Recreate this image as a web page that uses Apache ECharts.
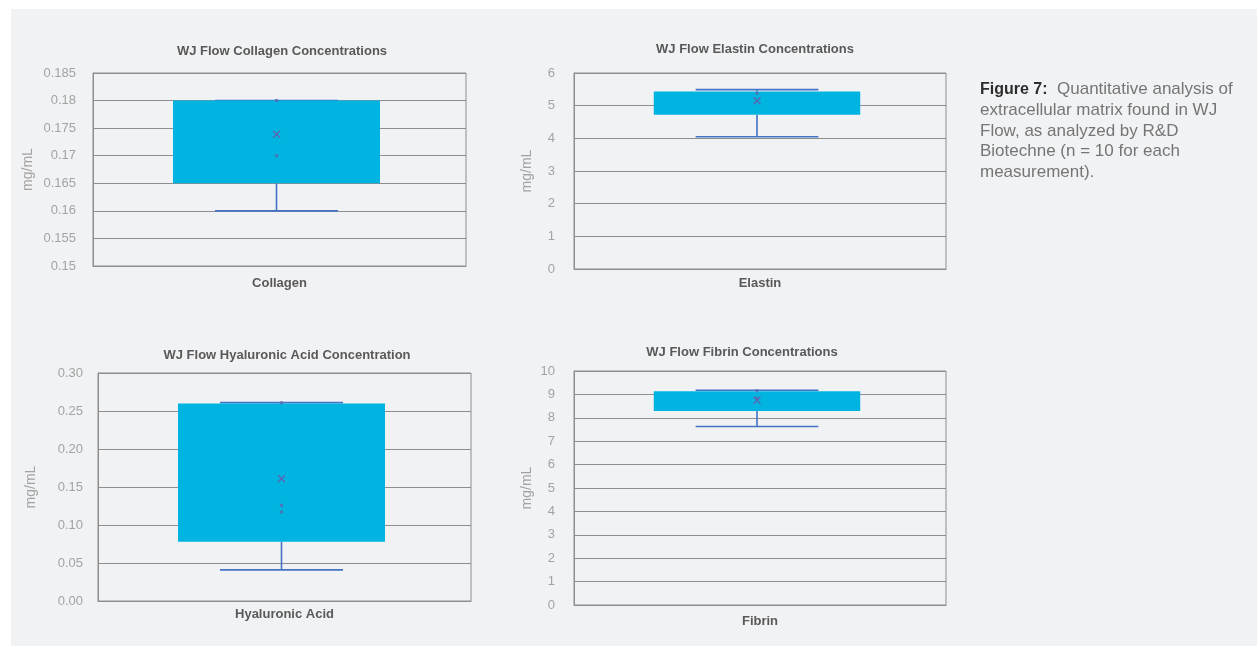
<!DOCTYPE html>
<html>
<head>
<meta charset="utf-8">
<script src="https://cdn.jsdelivr.net/npm/echarts@6/dist/echarts.min.js"></script>
<style>
html,body{margin:0;padding:0;background:#fff;}
#c{width:1257px;height:646px;}
</style>
</head>
<body>
<div id="c"></div>
<script>
// ---- data ----
const titles = ['WJ Flow Collagen Concentrations', 'WJ Flow Elastin Concentrations', 'WJ Flow Hyaluronic Acid Concentration', 'WJ Flow Fibrin Concentrations'];
const categories = ['Collagen', 'Elastin', 'Hyaluronic Acid', 'Fibrin'];
const statMin  = [0.160, 4.05, 0.041, 7.63];
const statQ1   = [0.165, 4.72, 0.078, 8.29];
const statQ3   = [0.180, 5.43, 0.260, 9.13];
const statMax  = [0.180, 5.49, 0.261, 9.18];
const statMean = [0.1739, 5.15, 0.161, 8.75];
const innerPoints = [[0.170, 0.180], [5.38], [0.261, 0.126, 0.117], [9.16, 8.84]];
const axisMin = [0.15, 0, 0, 0];
const axisMax = [0.185, 6, 0.30, 10];
const axisInterval = [0.005, 1, 0.05, 1];
const axisDecimals = [3, 0, 2, 0];
const yName = 'mg/mL';
const caption = ['Figure 7:', 'Quantitative analysis of', 'extracellular matrix found in WJ', 'Flow, as analyzed by R&D', 'Biotechne (n = 10 for each', 'measurement).'];

// ---- layout ----
const grids = [
  {left: 93, top: 73, width: 373, height: 193},
  {left: 574, top: 73, width: 372, height: 196},
  {left: 98, top: 373, width: 373, height: 228},
  {left: 574, top: 371, width: 372, height: 234}
];
const titlePos = [[277, 40], [750, 38], [282, 344], [737, 341]];
const xLabelMargin = [11, 8, 7, 10];
const yLabelMargin = [17, 19, 15, 19];
const yNameGap = [58, 40, 60, 40];

const FONT = "'Liberation Sans', Arial, sans-serif";
const GRID_COLOR = '#8e8e8e';
const BOX_COLOR = '#00b4e2';
const WHISKER_COLOR = '#4472c4';
const MARK_COLOR = '#5b66b0';

function fmt(d) {
  return function (v) {
    if (d === 3) return String(parseFloat(v.toFixed(3)));
    return v.toFixed(d);
  };
}

function renderBox(params, api) {
  const x = api.value(0);
  const pMin = api.coord([x, api.value(1)]);
  const pQ1 = api.coord([x, api.value(2)]);
  const pQ3 = api.coord([x, api.value(3)]);
  const pMax = api.coord([x, api.value(4)]);
  const pMean = api.coord([x, api.value(5)]);
  const band = api.size([1, 0])[0];
  const cx = pMin[0] - 3;
  const bw = band * 0.555;
  const cw = band * 0.33;
  const ls = {stroke: WHISKER_COLOR, lineWidth: 1.6};
  const ms = {stroke: MARK_COLOR, lineWidth: 1.4};
  const m = 3.5;
  return {
    type: 'group',
    children: [
      {type: 'line', shape: {x1: cx, y1: pMax[1], x2: cx, y2: pQ3[1]}, style: ls},
      {type: 'line', shape: {x1: cx, y1: pQ1[1], x2: cx, y2: pMin[1]}, style: ls},
      {type: 'line', shape: {x1: cx - cw / 2, y1: pMax[1], x2: cx + cw / 2, y2: pMax[1]}, style: ls},
      {type: 'line', shape: {x1: cx - cw / 2, y1: pMin[1], x2: cx + cw / 2, y2: pMin[1]}, style: ls},
      {type: 'rect', shape: {x: cx - bw / 2, y: pQ3[1], width: bw, height: pQ1[1] - pQ3[1]}, style: {fill: BOX_COLOR}},
      {type: 'line', shape: {x1: cx - m, y1: pMean[1] - m, x2: cx + m, y2: pMean[1] + m}, style: ms},
      {type: 'line', shape: {x1: cx - m, y1: pMean[1] + m, x2: cx + m, y2: pMean[1] - m}, style: ms}
    ]
  };
}

const option = {
  backgroundColor: '#ffffff',
  animation: false,
  textStyle: {fontFamily: FONT},
  graphic: [
    {type: 'rect', z: -100, shape: {x: 11, y: 9, width: 1246, height: 637}, style: {fill: '#f1f2f4'}},
    {
      type: 'text', left: 980, top: 81, z: 10,
      style: {
        text: '{b|' + caption[0] + '}{r|  ' + caption[1] + '}\n{r|' + caption[2] + '}\n{r|' + caption[3] + '}\n{r|' + caption[4] + '}\n{r|' + caption[5] + '}',
        fill: '#727272',
        rich: {
          b: {fontFamily: FONT, fontSize: 16, fontWeight: 'bold', fill: '#2e2e2e', lineHeight: 20.7},
          r: {fontFamily: FONT, fontSize: 17, fill: '#757575', lineHeight: 20.7}
        }
      }
    }
  ],
  title: titles.map((t, i) => ({
    text: t, left: titlePos[i][0], top: titlePos[i][1], textAlign: 'center',
    textStyle: {fontFamily: FONT, fontSize: 13, fontWeight: 'bold', color: '#595959'}
  })),
  grid: grids.map(g => Object.assign({show: true, borderColor: GRID_COLOR, borderWidth: 1, backgroundColor: 'transparent'}, g)),
  xAxis: categories.map((c, i) => ({
    type: 'category', gridIndex: i, data: [c],
    axisTick: {show: false},
    axisLine: {show: true, lineStyle: {color: GRID_COLOR, width: 1}},
    axisLabel: {fontFamily: FONT, fontSize: 13, fontWeight: 'bold', color: '#595959', margin: xLabelMargin[i]},
    splitLine: {show: false}
  })),
  yAxis: categories.map((c, i) => ({
    type: 'value', gridIndex: i,
    min: axisMin[i], max: axisMax[i], interval: axisInterval[i],
    axisTick: {show: false},
    axisLine: {show: true, lineStyle: {color: GRID_COLOR, width: 1}},
    splitLine: {show: true, lineStyle: {color: GRID_COLOR, width: 1}},
    axisLabel: {fontFamily: FONT, fontSize: 13, color: '#a3a3a3', margin: yLabelMargin[i], formatter: fmt(axisDecimals[i])},
    name: yName, nameLocation: 'middle', nameRotate: 90, nameGap: yNameGap[i],
    nameTextStyle: {fontFamily: FONT, fontSize: 14, color: '#a3a3a3'}
  })),
  series: [].concat(
    categories.map((c, i) => ({
      type: 'custom', xAxisIndex: i, yAxisIndex: i,
      renderItem: renderBox,
      encode: {x: 0, y: [1, 2, 3, 4, 5]},
      data: [[0, statMin[i], statQ1[i], statQ3[i], statMax[i], statMean[i]]],
      z: 2
    })),
    categories.map((c, i) => ({
      type: 'scatter', xAxisIndex: i, yAxisIndex: i,
      symbol: 'circle', symbolSize: 3.5, symbolOffset: [-3, 0],
      itemStyle: {color: MARK_COLOR},
      data: innerPoints[i].map(v => [0, v]),
      z: 3
    }))
  )
};

const chart = echarts.init(document.getElementById('c'), null, {renderer: 'canvas'});
chart.setOption(option);
</script>
</body>
</html>
